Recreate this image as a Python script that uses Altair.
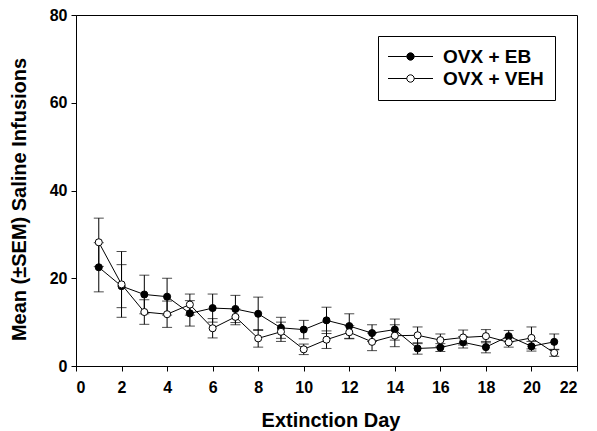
import altair as alt
import pandas as pd

days = list(range(1, 22))
eb_mean = [22.5, 18.2, 16.3, 15.8, 12.0, 13.2, 13.0, 11.9, 8.7, 8.3, 10.4,
           9.1, 7.5, 8.3, 4.0, 4.2, 5.4, 4.3, 6.8, 4.5, 5.5]
eb_sem = [5.6, 4.9, 4.4, 4.2, 2.9, 3.2, 3.1, 3.8, 2.4, 2.1, 3.0,
          2.8, 1.9, 2.4, 1.3, 0.9, 1.3, 1.3, 1.3, 1.1, 1.8]
veh_mean = [28.2, 18.6, 12.3, 11.8, 14.0, 8.6, 11.2, 6.3, 7.8, 3.8, 6.0,
            7.7, 5.5, 6.9, 7.0, 5.9, 6.5, 6.8, 5.4, 6.4, 3.0]
veh_sem = [5.5, 7.5, 2.8, 3.0, 2.4, 2.2, 1.8, 2.0, 2.2, 1.2, 2.0,
           1.5, 2.0, 2.5, 1.9, 1.4, 1.7, 1.5, 1.1, 2.5, 0.8]
groups = ["OVX + EB", "OVX + VEH"]

rows = []
for g, m, s in [(groups[0], eb_mean, eb_sem), (groups[1], veh_mean, veh_sem)]:
    for d, mv, sv in zip(days, m, s):
        rows.append({"day": d, "mean": mv, "lo": mv - sv, "hi": mv + sv, "group": g})
df = pd.DataFrame(rows)

FONT = "Liberation Sans"

x = alt.X("day:Q", scale=alt.Scale(domain=[0, 22], nice=False),
          axis=alt.Axis(values=list(range(0, 23, 2)), title="Extinction Day",
                        titleX=254.5, titleY=60.5, titleBaseline="alphabetic",
                        titleAlign="center"))
y = alt.Y("mean:Q", scale=alt.Scale(domain=[0, 80], nice=False),
          axis=alt.Axis(values=[0, 20, 40, 60, 80], title="Mean (\u00b1SEM) Saline Infusions",
                        titleX=-57, titleY=184, titleAngle=-90, titleBaseline="middle",
                        titleAlign="center"))

base = alt.Chart(df)

bars = base.mark_rule(color="black", strokeWidth=1).encode(
    x=x, y=alt.Y("lo:Q"), y2="hi:Q", detail="group:N")
cap_hi = base.mark_tick(color="black", orient="horizontal", size=10, thickness=1).encode(
    x=x, y=alt.Y("hi:Q"))
cap_lo = base.mark_tick(color="black", orient="horizontal", size=10, thickness=1).encode(
    x=x, y=alt.Y("lo:Q"))
lines = base.mark_line(color="black", strokeWidth=1).encode(
    x=x, y=y, detail="group:N")

legend_path = ("M-5,0L-0.82,0M0.82,0L5,0M-0.82,0A0.82,0.82,0,1,0,0.82,0"
               "A0.82,0.82,0,1,0,-0.82,0Z")

points = base.mark_point(shape="circle", filled=True, stroke="black", strokeWidth=1,
                         size=50, opacity=1).encode(
    x=x, y=y,
    fill=alt.Fill("group:N", scale=alt.Scale(domain=groups, range=["black", "white"]),
                  title=None,
                  legend=alt.Legend(orient="none", legendX=302, legendY=21,
                                    symbolType=legend_path, symbolSize=81,
                                    symbolStrokeColor="black", symbolStrokeWidth=1,
                                    symbolOffset=12, labelOffset=23,
                                    labelFont=FONT, labelFontSize=19,
                                    labelFontWeight="bold", labelColor="black",
                                    strokeColor="black", fillColor="white",
                                    padding=11, rowPadding=2)),
)

chart = alt.layer(bars, cap_hi, cap_lo, lines, points).properties(
    width=501, height=351,
    autosize=alt.AutoSizeParams(type="none"),
    padding={"left": 68, "top": 7, "right": 12, "bottom": 65},
).configure_view(stroke="black", strokeWidth=1).configure_axis(
    grid=False, domainColor="black", tickColor="black", tickSize=5,
    labelFont=FONT, labelFontSize=16, labelFontWeight="bold", labelColor="black",
    titleFont=FONT, titleFontSize=20, titleFontWeight="bold", titleColor="black",
).configure_axisX(labelPadding=8).configure_axisY(labelPadding=4)

chart.save("out.html", embed_options={"renderer": "svg", "actions": False})
